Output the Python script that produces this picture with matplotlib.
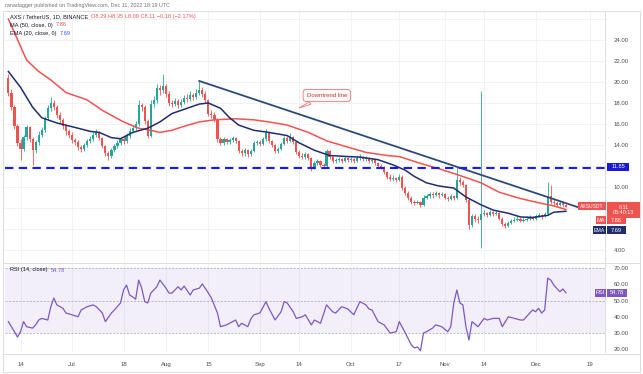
import numpy as np
import matplotlib
matplotlib.use('Agg')
import matplotlib.pyplot as plt
from matplotlib.patches import Rectangle
from matplotlib.lines import Line2D

plt.rcParams['font.family'] = ['Liberation Sans', 'DejaVu Sans']

# daily candles, day 0 = Jun 10 2022 ... day 184 = Dec 11 2022
first_open = 20.4
closes = [19.0, 17.6, 15.8, 14.2, 13.6, 14.8, 15.7, 14.6, 13.5, 14.3,
          15.0, 15.4, 16.6, 17.5, 18.0, 17.6, 16.9, 16.4, 15.8, 15.3,
          15.0, 14.5, 14.3, 13.8, 13.6, 14.0, 14.4, 14.6, 15.0, 15.2,
          14.7, 13.9, 13.2, 13.0, 13.5, 13.9, 14.2, 14.6, 14.4, 14.9,
          15.3, 15.6, 16.0, 17.8, 17.6, 16.3, 14.9, 17.9, 18.3, 19.4,
          19.2, 19.6, 18.9, 18.0, 17.9, 18.2, 17.8, 18.1, 18.5, 18.4,
          18.8, 18.6, 19.0, 19.2, 18.9, 18.3, 17.0, 16.9, 16.5, 14.6,
          14.2, 14.6, 14.3, 14.5, 14.7, 14.4, 13.4, 13.2, 13.5, 13.1,
          13.4, 14.2, 14.3, 14.1, 14.6, 15.1, 14.4, 14.0, 13.4, 13.6,
          14.1, 14.7, 14.4, 14.8, 14.3, 13.3, 13.0, 12.9, 13.1, 12.8,
          11.9, 12.3, 12.5, 12.1, 12.0, 13.4, 12.9, 12.5, 12.6, 12.7,
          12.5, 12.8, 12.6, 12.7, 12.5, 12.8, 12.9, 12.7, 12.8, 12.5,
          12.6, 12.3, 12.0, 11.9, 11.4, 11.0, 10.8, 10.9, 10.7, 11.0,
          9.9, 9.4, 9.0, 8.6, 8.5, 8.6, 8.3, 9.0, 9.1, 9.3,
          9.2, 9.4, 9.2, 9.3, 9.0, 8.9, 9.1, 9.0, 10.7, 10.5,
          10.2, 8.8, 6.4, 7.2, 7.0, 6.9, 7.4, 7.5, 7.3, 7.6,
          7.4, 7.5, 7.0, 6.5, 6.3, 6.6, 6.8, 6.9, 7.0, 6.8,
          6.9, 7.0, 7.1, 7.0, 7.2, 7.3, 7.2, 7.4, 9.1, 8.6,
          8.5, 8.3, 8.5, 8.29, 8.11]
highs = [20.8, 19.3, 17.8, 16.0, 14.6, 15.0, 15.9, 15.8, 14.8, 14.5,
         15.3, 15.7, 16.8, 17.8, 18.6, 18.3, 17.8, 17.1, 16.6, 16.0,
         15.5, 15.2, 14.7, 14.5, 14.0, 14.2, 14.6, 14.9, 15.2, 15.5,
         15.3, 14.8, 14.0, 13.4, 13.7, 14.1, 14.5, 14.8, 14.9, 15.1,
         15.6, 15.9, 16.3, 18.3, 18.0, 17.8, 16.5, 18.3, 18.7, 19.8,
         19.7, 20.8, 19.8, 19.1, 18.3, 18.5, 18.4, 18.4, 18.8, 18.9,
         19.1, 19.0, 19.3, 20.1, 19.5, 19.1, 18.4, 17.3, 17.1, 16.6,
         14.8, 14.8, 14.7, 14.7, 14.9, 14.8, 14.5, 13.6, 13.7, 13.6,
         13.6, 14.4, 14.5, 14.5, 14.8, 15.5, 15.2, 14.5, 14.1, 13.8,
         14.3, 14.9, 14.9, 15.1, 14.9, 14.4, 13.5, 13.2, 13.3, 13.2,
         12.9, 12.5, 12.7, 12.6, 12.3, 13.6, 13.5, 13.0, 12.8, 12.9,
         12.8, 13.0, 12.9, 12.9, 12.8, 13.0, 13.1, 13.0, 13.0, 12.9,
         12.8, 12.7, 12.4, 12.2, 12.0, 11.5, 11.2, 11.1, 11.0, 11.2,
         11.1, 10.1, 9.6, 9.1, 8.8, 8.8, 8.7, 9.2, 9.3, 9.5,
         9.5, 9.6, 9.5, 9.5, 9.4, 9.1, 9.3, 9.2, 11.9, 11.0,
         10.7, 10.3, 9.0, 7.4, 7.4, 7.2, 19.1, 7.8, 7.6, 7.8,
         7.7, 7.7, 7.6, 7.1, 6.7, 6.8, 7.0, 7.1, 7.2, 7.1,
         7.1, 7.2, 7.3, 7.2, 7.4, 7.5, 7.4, 7.6, 10.5, 10.2,
         8.9, 8.7, 8.7, 8.6, 8.35]
lows = [18.7, 17.3, 15.5, 13.9, 12.6, 13.4, 14.5, 14.3, 12.1, 13.2,
        14.0, 14.8, 15.2, 16.4, 17.2, 17.3, 16.6, 16.1, 15.5, 15.0,
        14.7, 14.2, 14.0, 13.5, 13.3, 13.4, 13.8, 14.2, 14.4, 14.8,
        14.5, 13.7, 13.0, 12.6, 12.8, 13.3, 13.7, 14.0, 14.1, 14.2,
        14.7, 15.1, 15.4, 15.8, 17.2, 16.0, 14.7, 14.8, 17.6, 18.0,
        18.8, 19.0, 18.6, 17.7, 17.6, 17.7, 17.5, 17.6, 17.9, 18.1,
        18.2, 18.3, 18.4, 18.8, 18.6, 18.0, 16.8, 16.6, 16.2, 14.3,
        14.0, 14.0, 14.1, 14.1, 14.3, 14.2, 13.2, 13.0, 13.0, 12.9,
        13.0, 13.3, 14.0, 13.9, 14.0, 14.4, 14.2, 13.8, 13.2, 13.2,
        13.5, 14.0, 14.2, 14.3, 14.1, 13.1, 12.8, 12.7, 12.7, 12.6,
        11.5, 11.7, 12.1, 11.9, 11.8, 11.9, 12.7, 12.3, 12.3, 12.4,
        12.3, 12.4, 12.4, 12.4, 12.3, 12.4, 12.6, 12.5, 12.5, 12.3,
        12.3, 12.1, 11.8, 11.7, 11.2, 10.8, 10.6, 10.6, 10.5, 10.6,
        9.7, 9.2, 8.8, 8.4, 8.3, 8.4, 8.1, 8.2, 8.9, 9.0,
        9.0, 9.1, 9.0, 9.1, 8.9, 8.7, 8.8, 8.8, 8.9, 10.2,
        10.0, 8.6, 6.0, 6.2, 6.7, 6.6, 4.2, 7.2, 7.1, 7.2,
        7.2, 7.3, 6.9, 6.3, 6.1, 6.2, 6.5, 6.7, 6.8, 6.7,
        6.7, 6.8, 6.9, 6.9, 6.9, 7.1, 7.0, 7.1, 7.3, 8.4,
        8.3, 8.1, 8.2, 8.1, 8.09]

# indicator lines (day, value)
ma_days = [0, 2, 4, 6, 10, 14, 19, 26, 31, 38, 43, 47, 50, 54, 57, 63, 68,
           75, 81, 86, 92, 99, 105, 112, 118, 125, 129, 136, 142, 149, 156,
           162, 169, 175, 180, 184]
ma_vals = [26.0, 24.7, 23.4, 22.1, 21.0, 20.2, 19.0, 18.3, 17.3, 16.2, 15.6,
           15.4, 15.2, 15.4, 15.7, 16.2, 16.4, 16.5, 16.4, 16.2, 15.9, 15.2,
           14.4, 13.8, 13.3, 13.0, 12.9, 12.25, 11.75, 11.1, 10.4, 9.5, 8.9,
           8.5, 8.2, 7.86]
ema_days = [0, 4, 8, 11, 16, 23, 27, 30, 34, 37, 41, 46, 50, 54, 59, 63, 66,
            70, 73, 76, 81, 86, 92, 96, 101, 106, 112, 116, 122, 127, 131,
            134, 138, 142, 147, 151, 156, 160, 165, 169, 173, 178, 180, 184]
ema_vals = [21.0, 19.5, 17.6, 16.6, 16.1, 15.6, 15.3, 15.2, 14.7, 14.6, 15.2,
            15.6, 16.2, 17.0, 17.5, 17.9, 18.0, 17.5, 16.6, 15.9, 15.4, 15.2,
            14.9, 14.2, 13.5, 13.0, 12.9, 12.85, 12.6, 12.1, 11.6, 11.0, 10.4,
            10.1, 9.9, 9.05, 8.3, 7.8, 7.5, 7.15, 7.1, 7.3, 7.6, 7.69]

rsi_days = [0, 2, 3, 4, 5, 6, 8, 9, 10, 11, 13, 14, 15, 16, 18, 19, 21, 23,
            24, 26, 28, 29, 31, 32, 34, 35, 37, 38, 39, 40, 41, 42, 43, 44,
            45, 46, 47, 49, 50, 52, 53, 54, 56, 57, 58, 60, 61, 63, 64, 66,
            67, 69, 70, 72, 74, 75, 76, 77, 79, 80, 81, 83, 85, 86, 88, 90,
            91, 92, 94, 95, 97, 98, 100, 101, 103, 105, 107, 108, 110, 112,
            114, 116, 118, 119, 120, 122, 124, 126, 128, 129, 131, 133, 134,
            135, 136, 137, 138, 140, 141, 143, 145, 146, 147, 148, 149, 150,
            151, 152, 153, 155, 157, 158, 160, 162, 163, 165, 167, 169, 170,
            173, 174, 175, 176, 177, 178, 179, 180, 182, 183, 184]
rsi_vals = [37, 30.8, 27.5, 30.8, 37, 33.9, 33, 35, 38, 39, 38, 46.2, 51.5,
            47.3, 45.2, 42.3, 41.2, 40, 44.2, 46.2, 47.3, 46.2, 42.3, 37,
            42.3, 44.2, 48.5, 56.5, 59.5, 53.4, 52.3, 50.8, 62.6, 57.6, 49.3,
            48.5, 54.6, 58.5, 62.6, 57.6, 54.6, 54.6, 58.5, 56.5, 58.9, 53.4,
            56.5, 57.6, 60.2, 54.6, 51.5, 42.3, 33.9, 35, 37, 38, 33.9, 36,
            33.9, 38.6, 41.2, 42.3, 49.3, 45.2, 38, 43.1, 49.3, 48.5, 43.1,
            39, 40, 41.2, 35, 38, 36, 47.3, 43.1, 42.3, 46.2, 44.8, 41.2,
            49.3, 47.3, 44.8, 44.2, 37, 35, 30, 30.8, 37, 30, 22.6, 20.8,
            21.4, 19.1, 30, 30.8, 33, 35, 33.9, 30.8, 33.9, 48.5, 56.5, 48.5,
            47.3, 33.9, 25.7, 37, 33.9, 39, 38, 39, 39, 33.9, 40, 39, 38, 38,
            44.2, 43.1, 45.2, 42.3, 44.2, 63.8, 62.6, 59.5, 55.4, 57.1, 54.78]

trend_days = [63, 188.8]
trend_vals = [20.1, 8.0]
support = 11.85

tick_days = [4, 21, 38, 52, 66, 83, 96, 113, 129, 144, 157, 174, 192]
tick_labels = ['14', 'Jul', '18', 'Aug', '15', 'Sep', '14', 'Oct', '17',
               'Nov', '14', 'Dec', '19']

UP, DOWN = '#26a69a', '#ef5350'
MA_C, EMA_C, RSI_C = '#f05350', '#1f2d6e', '#7e57c2'
GRID = '#eef0f5'
W, H = 643, 374


def fx(x):
    return x / W


def fy(y):
    return 1 - y / H


fig = plt.figure(figsize=(6.43, 3.74), dpi=100)
ax = fig.add_axes([fx(5), fy(262), 600 / W, 250 / H])
ar = fig.add_axes([fx(5), fy(352), 600 / W, 89 / H], sharex=ax)

days = np.arange(len(closes))
c = np.array(closes)
o = np.r_[first_open, c[:-1]]
cols = [UP if cc >= oo else DOWN for oo, cc in zip(o, c)]

# grid
for d in tick_days:
    ax.axvline(d, color=GRID, lw=0.6, zorder=0)
    ar.axvline(d, color=GRID, lw=0.6, zorder=0)
for p in range(4, 28, 2):
    ax.axhline(p, color=GRID, lw=0.6, zorder=0)

# candles
ax.vlines(days, lows, highs, colors=cols, lw=0.6, zorder=2)
ax.bar(days, np.maximum(np.abs(c - o), 0.05), bottom=np.minimum(o, c),
       width=0.72, color=cols, lw=0, zorder=3)

ax.plot(ma_days, ma_vals, color=MA_C, lw=1.1, zorder=4)
ax.plot(ema_days, ema_vals, color=EMA_C, lw=1.1, zorder=4)
ax.plot(trend_days, trend_vals, color='#2f4a7a', lw=1.3, zorder=5)
ax.axhline(support, color='#1a1aee', lw=1.5, dashes=(4, 2.6), zorder=5)

ax.annotate('Downtrend line', xy=(95.2, 17.43), xytext=(105.1, 18.71),
            ha='center', va='center', fontsize=4.3, color='#a94442',
            bbox=dict(boxstyle='round,pad=0.6', fc='#fff6f6', ec='#e57373', lw=0.6),
            arrowprops=dict(arrowstyle='wedge,tail_width=0.5,shrink_factor=0.5',
                            fc='#fff6f6', ec='#e57373', lw=0.6), zorder=6)

ax.set_xlim(-1.12, 196.9)
ax.set_ylim(2.857, 26.67)
ax.yaxis.tick_right()
ax.set_yticks([4, 10, 14, 16, 18, 20, 22, 24])
ax.set_yticklabels(['%.2f' % v for v in [4, 10, 14, 16, 18, 20, 22, 24]])
ax.tick_params(axis='y', length=0, pad=6, labelsize=4.3, labelcolor='#4a4a4a')
ax.tick_params(axis='x', length=0, labelbottom=False)
for s in ['top', 'left', 'bottom']:
    ax.spines[s].set_visible(False)
ax.spines['right'].set_color('#d6d8de')
ax.spines['right'].set_linewidth(0.6)

# RSI pane
ar.axhspan(30, 70, color=RSI_C, alpha=0.09, lw=0, zorder=0)
for lvl in (70, 50, 30):
    ar.axhline(lvl, color='#a0a3ab', lw=0.5, dashes=(3, 2), zorder=1)
ar.plot(rsi_days, rsi_vals, color=RSI_C, lw=0.9, zorder=3)
ar.set_ylim(18.3, 73.1)
ar.yaxis.tick_right()
ar.set_yticks([20, 30, 40, 50, 60, 70])
ar.set_yticklabels(['%.2f' % v for v in [20, 30, 40, 50, 60, 70]])
ar.tick_params(axis='y', length=0, pad=6, labelsize=4.3, labelcolor='#4a4a4a')
ar.set_xticks(tick_days)
ar.set_xticklabels(tick_labels)
ar.tick_params(axis='x', length=0, pad=7, labelsize=4.3, labelcolor='#4a4a4a')
for s in ['top', 'left', 'bottom']:
    ar.spines[s].set_visible(False)
ar.spines['right'].set_color('#d6d8de')
ar.spines['right'].set_linewidth(0.6)

# frame lines
fig.add_artist(Rectangle((fx(3), fy(372)), 637 / W, 361 / H, transform=fig.transFigure,
                         fill=False, ec='#d6d8de', lw=0.6))
fig.add_artist(Line2D([fx(3), fx(640)], [fy(262.5), fy(262.5)], color='#d6d8de', lw=0.6))
fig.add_artist(Line2D([fx(3), fx(640)], [fy(354), fy(354)], color='#d6d8de', lw=0.6))

# header / legends
fig.text(fx(5), fy(5), 'ranadagger published on TradingView.com, Dec 11, 2022 18:19 UTC',
         fontsize=3.9, color='#707070', va='center')

renderer = fig.canvas.get_renderer()


def legend_row(y, parts, fs=4.1):
    x = 10
    for txt, col in parts:
        t = fig.text(fx(x), fy(y), txt, fontsize=fs, color=col, va='center')
        x = t.get_window_extent(renderer).x1 + 3


legend_row(16.5, [('AXS / TetherUS, 1D, BINANCE', '#131722'),
                  ('O8.29 H8.35 L8.09 C8.11 \u22120.18 (\u22122.17%)', DOWN)])
legend_row(25, [('MA (50, close, 0)', '#131722'), ('7.86', MA_C)])
legend_row(33.5, [('EMA (20, close, 0)', '#131722'), ('7.69', '#2962ff')])
legend_row(270, [('RSI (14, close)', '#131722'), ('54.78', RSI_C)])


def tag(x0, x1, y0, y1, text, fc, fs=4.1):
    fig.add_artist(Rectangle((fx(x0), fy(y1)), (x1 - x0) / W, (y1 - y0) / H,
                             transform=fig.transFigure, fc=fc, ec='none'))
    fig.text(fx((x0 + x1) / 2), fy((y0 + y1) / 2), text, fontsize=fs,
             color='white', ha='center', va='center', linespacing=1.0)


tag(607, 629, 163, 171, '11.85', '#1a1ad6')
tag(578, 606, 202, 210, 'AXSUSDT', DOWN, fs=3.6)
tag(607, 640, 202, 218, '8.11\n05:40:13', DOWN, fs=3.9)
tag(596, 606, 216, 224, 'MA', MA_C)
tag(607, 626, 216, 224, '7.86', MA_C)
tag(593, 606, 226, 234, 'EMA', EMA_C, fs=3.8)
tag(607, 626, 226, 234, '7.69', EMA_C)
tag(595, 606, 289, 297, 'RSI', RSI_C)
tag(607, 627, 289, 297, '54.78', RSI_C)

fig.savefig('out.png', dpi=100, facecolor='white')
